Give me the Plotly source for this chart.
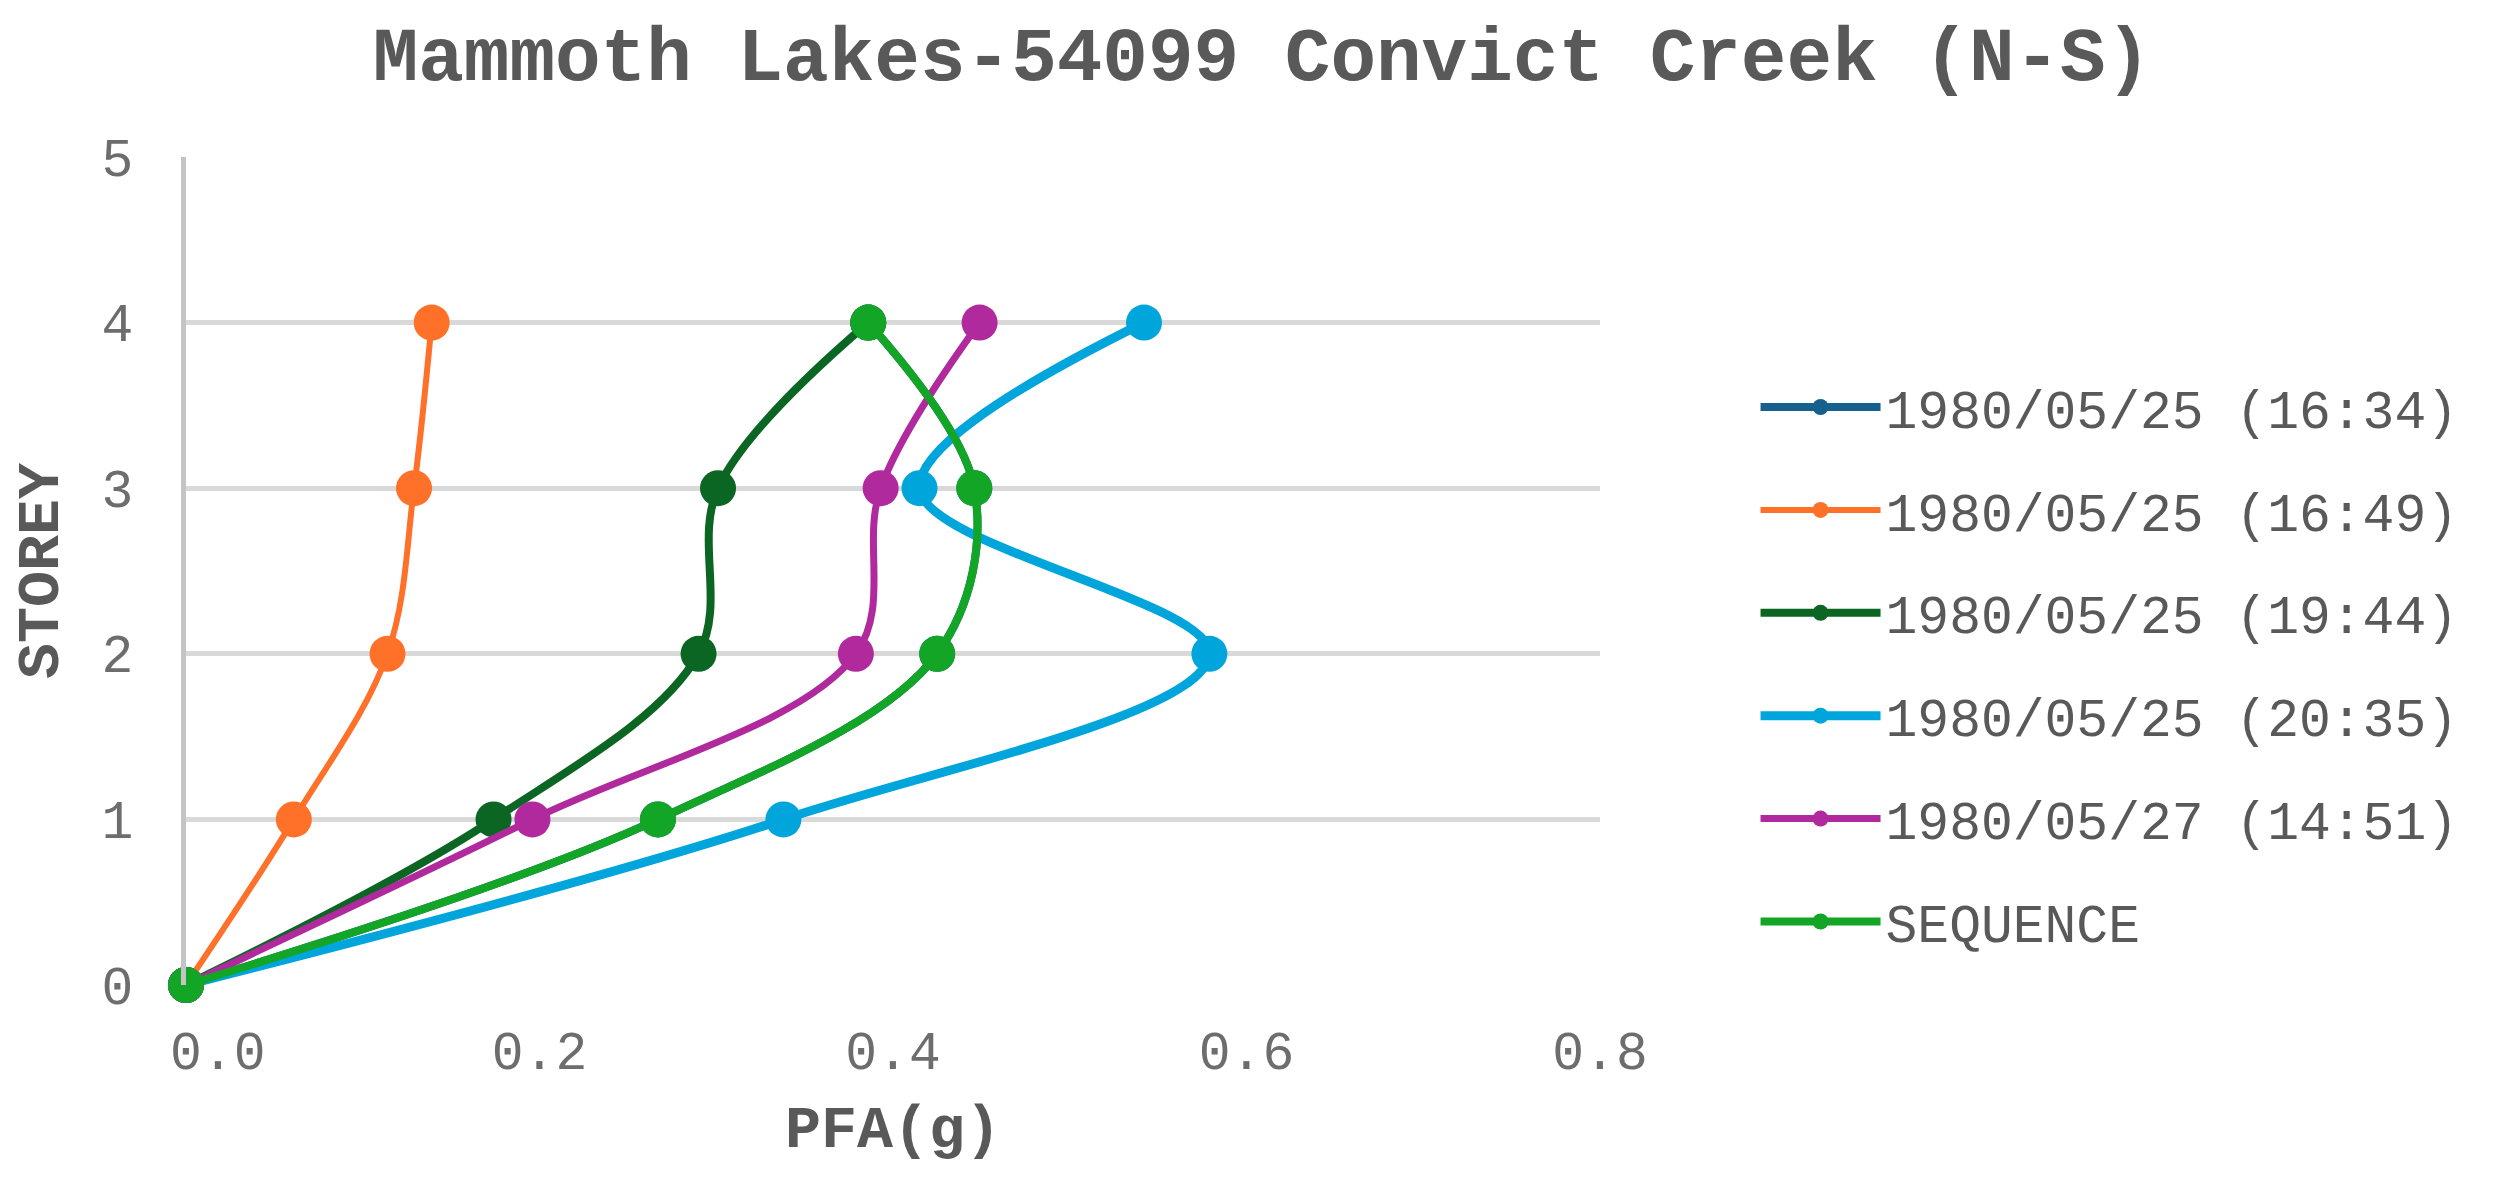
import plotly.graph_objects as go

# Storey levels (y) and peak floor acceleration per record (x, in g)
storeys = [0, 1, 2, 3, 4]
names = [
    "1980/05/25 (16:34)",
    "1980/05/25 (16:49)",
    "1980/05/25 (19:44)",
    "1980/05/25 (20:35)",
    "1980/05/27 (14:51)",
    "SEQUENCE",
]
pfa_1634 = [0.0, 0.267, 0.425, 0.446, 0.386]
pfa_1649 = [0.0, 0.061, 0.114, 0.129, 0.139]
pfa_1944 = [0.0, 0.174, 0.290, 0.301, 0.386]
pfa_2035 = [0.0, 0.338, 0.579, 0.415, 0.542]
pfa_1451 = [0.0, 0.196, 0.379, 0.393, 0.449]
pfa_seq = [0.0, 0.267, 0.425, 0.446, 0.386]

colors = ["#17608D", "#FF7029", "#0B6623", "#00A5DB", "#B02A9E", "#12A526"]
widths = [8, 6, 8, 9, 7, 8]
x_ticks = [0.0, 0.2, 0.4, 0.6, 0.8]
x_tick_text = ["\u00a0\u00a00.0", "0.2", "0.4", "0.6", "0.8"]
y_ticks = [0, 1, 2, 3, 4, 5]

FONT = "Courier New, Liberation Mono, monospace"

fig = go.Figure()
for i, (name, vals) in enumerate(
    zip(names, [pfa_1634, pfa_1649, pfa_1944, pfa_2035, pfa_1451, pfa_seq])
):
    fig.add_trace(
        go.Scatter(
            x=vals,
            y=storeys,
            name=name,
            legendgroup=name,
            mode="lines+markers",
            line=dict(color=colors[i], width=widths[i], shape="spline", smoothing=1),
            marker=dict(color=colors[i], size=36),
            cliponaxis=False,
        )
    )

fig.update_layout(
    width=2498,
    height=1180,
    margin=dict(l=178, r=906, t=149, b=203),
    paper_bgcolor="white",
    plot_bgcolor="white",
    font=dict(family=FONT, color="#6d6d6d", size=53),
    title=dict(
        text="<b>Mammoth Lakes-54099 Convict Creek (N-S)</b>",
        font=dict(family=FONT, size=76, color="#595959"),
        x=0.502,
        xref="container",
        xanchor="center",
        y=1 - 45 / 1180,
        yref="container",
        yanchor="middle",
    ),
    legend=dict(
        x=1.11,
        xanchor="left",
        y=0.387,
        yanchor="middle",
        font=dict(family=FONT, size=53, color="#595959"),
        itemwidth=120,
        tracegroupgap=31,
        bgcolor="rgba(0,0,0,0)",
    ),
    showlegend=True,
)

fig.update_xaxes(
    range=[0, 0.8],
    tickvals=x_ticks,
    ticktext=x_tick_text,
    showgrid=False,
    zeroline=False,
    showline=False,
    ticks="",
    ticklabelstandoff=30,
    title=dict(text="<b>PFA(g)</b>", font=dict(family=FONT, size=60, color="#595959"), standoff=20),
)
fig.update_yaxes(
    range=[0, 5],
    tickvals=y_ticks,
    showgrid=True,
    gridcolor="#d9d9d9",
    gridwidth=5,
    zeroline=False,
    showline=True,
    linecolor="#c4c4c4",
    linewidth=5,
    ticks="",
    ticklabelstandoff=37,
    title=dict(text="<b>STOREY</b>", font=dict(family=FONT, size=60, color="#595959"), standoff=30),
)

fig.write_html("out.html")
